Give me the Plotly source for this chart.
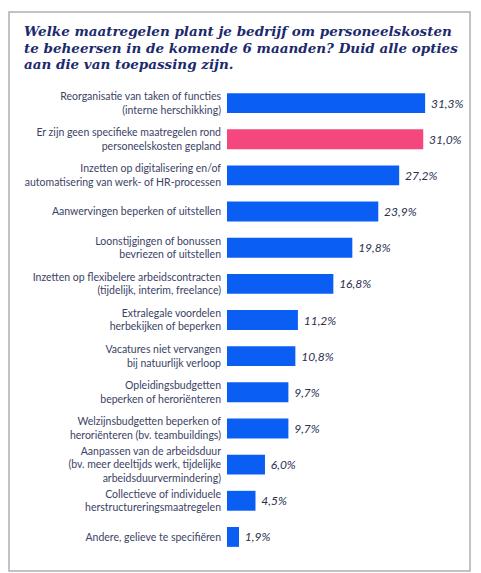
import plotly.graph_objects as go

# antwoorden en percentages (van boven naar onder)
labels = [
    "Reorganisatie van taken of functies<br>(interne herschikking)",
    "Er zijn geen specifieke maatregelen rond<br>personeelskosten gepland",
    "Inzetten op digitalisering en/of<br>automatisering van werk- of HR-processen",
    "Aanwervingen beperken of uitstellen",
    "Loonstijgingen of bonussen<br>bevriezen of uitstellen",
    "Inzetten op flexibelere arbeidscontracten<br>(tijdelijk, interim, freelance)",
    "Extralegale voordelen<br>herbekijken of beperken",
    "Vacatures niet vervangen<br>bij natuurlijk verloop",
    "Opleidingsbudgetten<br>beperken of heroriënteren",
    "Welzijnsbudgetten beperken of<br>heroriënteren (bv. teambuildings)",
    "Aanpassen van de arbeidsduur<br>(bv. meer deeltijds werk, tijdelijke<br>arbeidsduurvermindering)",
    "Collectieve of individuele<br>herstructureringsmaatregelen",
    "Andere, gelieve te specifiëren",
]
waarden = [31.3, 31.0, 27.2, 23.9, 19.8, 16.8, 11.2, 10.8, 9.7, 9.7, 6.0, 4.5, 1.9]
highlight = labels[1]

titel_regels = [
    "Welke maatregelen plant je bedrijf om personeelskosten",
    "te beheersen in de komende 6 maanden? Duid alle opties",
    "aan die van toepassing zijn.",
]

BLAUW = "#0b5ef4"
ROZE = "#f4477d"
NAVY = "#1c2a6c"
LABELKLEUR = "#3b4365"

kleuren = [ROZE if l == highlight else BLAUW for l in labels]
teksten = ["\u00a0" + f"{w:.1f}".replace(".", ",") + "%" for w in waarden]

# pagina heeft 8px body-marge, dus figuur iets kleiner en alles 8px verschoven
W, H = 473, 565
ml, mr, mt, mb = 219, 16, 77, 18
pw, ph = W - ml - mr, H - mt - mb

fig = go.Figure(go.Bar(
    x=waarden, y=labels, orientation="h",
    marker=dict(color=kleuren, line=dict(width=0)),
    text=teksten, textposition="outside", cliponaxis=False,
    textfont=dict(family="Lato", size=12, color="#2b3150", style="italic"),
    hoverinfo="skip",
))

# titel
for k, r in enumerate(titel_regels):
    fig.add_annotation(x=(14 - ml) / pw, y=(H - mb - (23 + 16.7 * k)) / ph,
                       xref="paper", yref="paper", text=r, showarrow=False,
                       xanchor="left", yanchor="middle", align="left",
                       font=dict(family="DejaVu Serif", size=13.5, color=NAVY,
                                 weight="bold", style="italic"))

# kader rond de grafiek
fig.add_shape(type="rect", xref="paper", yref="paper",
              x0=(1 - ml) / pw, x1=(462 - ml) / pw,
              y0=(H - mb - 563) / ph, y1=(H - mb - 4) / ph,
              line=dict(color="#a9b1b9", width=1.5), layer="below")

fig.update_layout(
    width=W, height=H,
    margin=dict(l=ml, r=mr, t=mt, b=mb),
    paper_bgcolor="white", plot_bgcolor="white",
    bargap=0.45, showlegend=False,
    xaxis=dict(range=[0, pw / 6.33], visible=False, fixedrange=True),
    yaxis=dict(autorange="reversed", showgrid=False, zeroline=False,
               showline=False, ticks="", ticklabelstandoff=5,
               automargin=False, fixedrange=True,
               tickfont=dict(family="Lato", size=10.5, color=LABELKLEUR)),
)

fig.write_html("out.html")
